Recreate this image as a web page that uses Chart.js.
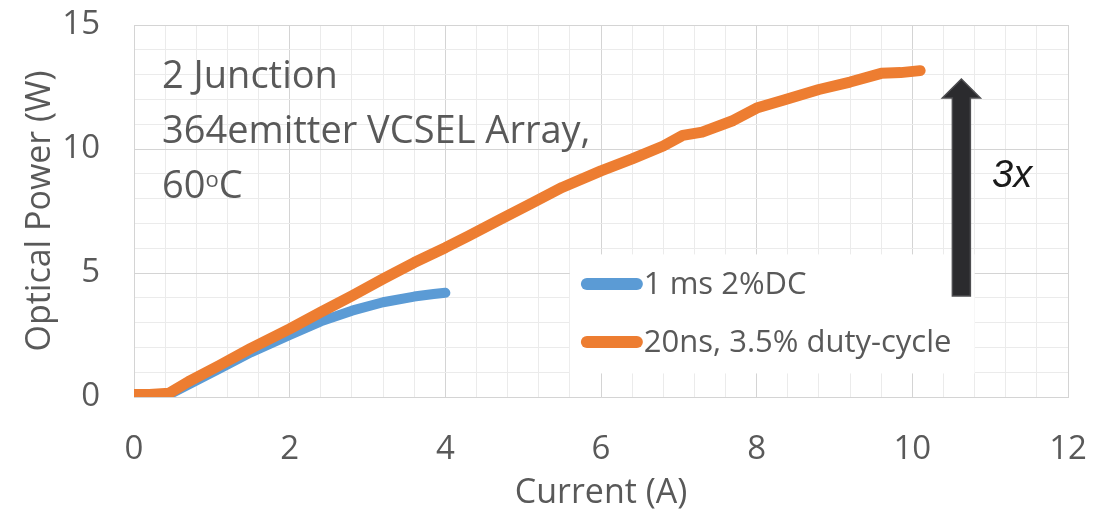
<!DOCTYPE html>
<html>
<head>
<meta charset="utf-8">
<script src="https://cdn.jsdelivr.net/npm/chart.js@4.4.1/dist/chart.umd.min.js"></script>
<style>
    html, body { margin: 0; padding: 0; background: #fff; }
    #wrap { position: relative; width: 1101px; height: 516px; }
    #note {
        position: absolute; left: 162px; top: 46px;
        font-family: "Open Sans"; font-size: 38px; line-height: 55px;
        color: #595959; white-space: nowrap;
    }
    #note sup { font-size: 22px; line-height: 0; vertical-align: 11px; }
    #mult {
        position: absolute; left: 992px; top: 155px;
        font-family: "Liberation Sans"; font-style: italic;
        font-size: 38px; line-height: 38px; color: #1a1a1a;
    }
</style>
</head>
<body>
<div id="wrap">
    <canvas id="myChart" width="1101" height="516"></canvas>
    <div id="note">2 Junction<br>364emitter VCSEL Array,<br>60<sup>o</sup>C</div>
    <div id="mult">3x</div>
</div>
<script>
// 1 ms pulses, 2% duty cycle
var blueLabel = '1 ms 2%DC';
var blueX = [0, 0.45, 0.7, 1.1, 1.5, 2.0, 2.4, 2.8, 3.2, 3.6, 3.85, 4.0];
var blueY = [0.05, 0.1, 0.5, 1.15, 1.8, 2.5, 3.05, 3.48, 3.82, 4.05, 4.15, 4.2];

// 20 ns pulses, 3.5% duty cycle
var orangeLabel = '20ns, 3.5% duty-cycle';
var orangeX = [0, 0.2, 0.45, 0.7, 1.1, 1.5, 2.0, 2.4, 2.8, 3.2, 3.6, 4.0, 4.3, 4.7, 5.1, 5.5, 6.0, 6.4, 6.8, 7.05, 7.3, 7.7, 8.0, 8.35, 8.8, 9.2, 9.6, 9.85, 10.1];
var orangeY = [0.1, 0.1, 0.15, 0.62, 1.28, 1.96, 2.75, 3.42, 4.08, 4.76, 5.42, 6.02, 6.5, 7.15, 7.8, 8.45, 9.12, 9.6, 10.12, 10.55, 10.68, 11.15, 11.65, 11.98, 12.4, 12.7, 13.05, 13.08, 13.16];

var xLabels = [0, 2, 4, 6, 8, 10, 12];
var yLabels = [0, 5, 10, 15];

var blueColor = '#5b9bd5';
var orangeColor = '#ed7d31';
var textColor = '#595959';
var majorGrid = '#d4d4d4';
var minorGrid = '#ebebeb';

function toPoints(xs, ys){
    let pts = [];
    for (let i = 0; i < xs.length; i++) {
        pts.push({x: xs[i], y: ys[i]});
    }
    return pts;
}

// white legend box inside the plot, plus the "3x" arrow
const overlayPlugin = {
    id: 'overlay',
    afterDatasetsDraw(chart){
        const ctx = chart.ctx;
        const x = chart.scales.x;
        const y = chart.scales.y;

        let bx0 = x.getPixelForValue(5.6);
        let bx1 = x.getPixelForValue(10.8);
        let by0 = y.getPixelForValue(5.75);
        let by1 = y.getPixelForValue(0.95);
        ctx.save();
        ctx.fillStyle = '#ffffff';
        ctx.fillRect(bx0, by0, bx1 - bx0, by1 - by0);

        const entries = [
            {label: blueLabel, color: blueColor, cy: 284},
            {label: orangeLabel, color: orangeColor, cy: 342}
        ];
        ctx.font = '31px "Open Sans"';
        ctx.textBaseline = 'middle';
        ctx.textAlign = 'left';
        entries.forEach(e => {
            ctx.strokeStyle = e.color;
            ctx.lineWidth = 12;
            ctx.lineCap = 'round';
            ctx.beginPath();
            ctx.moveTo(bx0 + 17, e.cy);
            ctx.lineTo(bx0 + 67, e.cy);
            ctx.stroke();
            ctx.fillStyle = textColor;
            ctx.fillText(e.label, bx0 + 74, e.cy + 1);
        });

        // arrow
        let ax = x.getPixelForValue(10.63);
        let aTop = y.getPixelForValue(12.82);
        let aBot = y.getPixelForValue(4.07);
        ctx.fillStyle = '#2b2b2e';
        ctx.strokeStyle = '#4d4d50';
        ctx.lineWidth = 1.5;
        ctx.beginPath();
        ctx.moveTo(ax, aTop);
        ctx.lineTo(ax + 19, aTop + 19);
        ctx.lineTo(ax + 9, aTop + 19);
        ctx.lineTo(ax + 9, aBot);
        ctx.lineTo(ax - 9, aBot);
        ctx.lineTo(ax - 9, aTop + 19);
        ctx.lineTo(ax - 19, aTop + 19);
        ctx.closePath();
        ctx.fill();
        ctx.stroke();
        ctx.restore();
    }
};

Chart.defaults.font.family = "'Open Sans'";
Chart.defaults.color = textColor;

new Chart("myChart", {
    type: "scatter",
    data: {
        datasets: [{
            label: orangeLabel,
            data: toPoints(orangeX, orangeY),
            borderColor: orangeColor,
            backgroundColor: orangeColor,
            borderWidth: 11,
            borderCapStyle: 'round',
            borderJoinStyle: 'round',
            showLine: true,
            pointRadius: 0,
            order: 0
        }, {
            label: blueLabel,
            data: toPoints(blueX, blueY),
            borderColor: blueColor,
            backgroundColor: blueColor,
            borderWidth: 10,
            borderCapStyle: 'round',
            borderJoinStyle: 'round',
            showLine: true,
            pointRadius: 0,
            order: 1
        }]
    },
    options: {
        responsive: false,
        animation: false,
        layout: {padding: {top: 25, right: 33, left: 0, bottom: 0}},
        plugins: {
            legend: {display: false},
            tooltip: {enabled: false}
        },
        scales: {
            x: {
                type: 'linear',
                min: 0,
                max: 12,
                afterFit: s => {
                    s.height = 119;
                    s.paddingLeft = 0;
                    s.paddingRight = 0;
                },
                ticks: {
                    stepSize: 0.4,
                    autoSkip: false,
                    maxRotation: 0,
                    padding: 33,
                    font: {size: 33},
                    color: textColor,
                    callback: v => xLabels.includes(v) ? String(v) : ''
                },
                grid: {
                    drawTicks: false,
                    color: c => xLabels.includes(c.tick.value) ? majorGrid : minorGrid
                },
                border: {color: majorGrid},
                title: {
                    display: true,
                    text: 'Current (A)',
                    font: {size: 34},
                    color: textColor,
                    padding: {top: 0, bottom: 2}
                }
            },
            y: {
                min: 0,
                max: 15,
                afterFit: s => {
                    s.width = 134;
                    s.paddingTop = 0;
                    s.paddingBottom = 0;
                },
                ticks: {
                    stepSize: 1,
                    autoSkip: false,
                    padding: 34,
                    font: {size: 33},
                    color: textColor,
                    callback: v => yLabels.includes(v) ? String(v) : ''
                },
                grid: {
                    drawTicks: false,
                    color: c => yLabels.includes(c.tick.value) ? majorGrid : minorGrid
                },
                border: {color: majorGrid},
                title: {
                    display: true,
                    text: 'Optical Power (W)',
                    font: {size: 34},
                    color: textColor,
                    padding: {top: 20, bottom: 0}
                }
            }
        }
    },
    plugins: [overlayPlugin]
});
</script>
</body>
</html>
